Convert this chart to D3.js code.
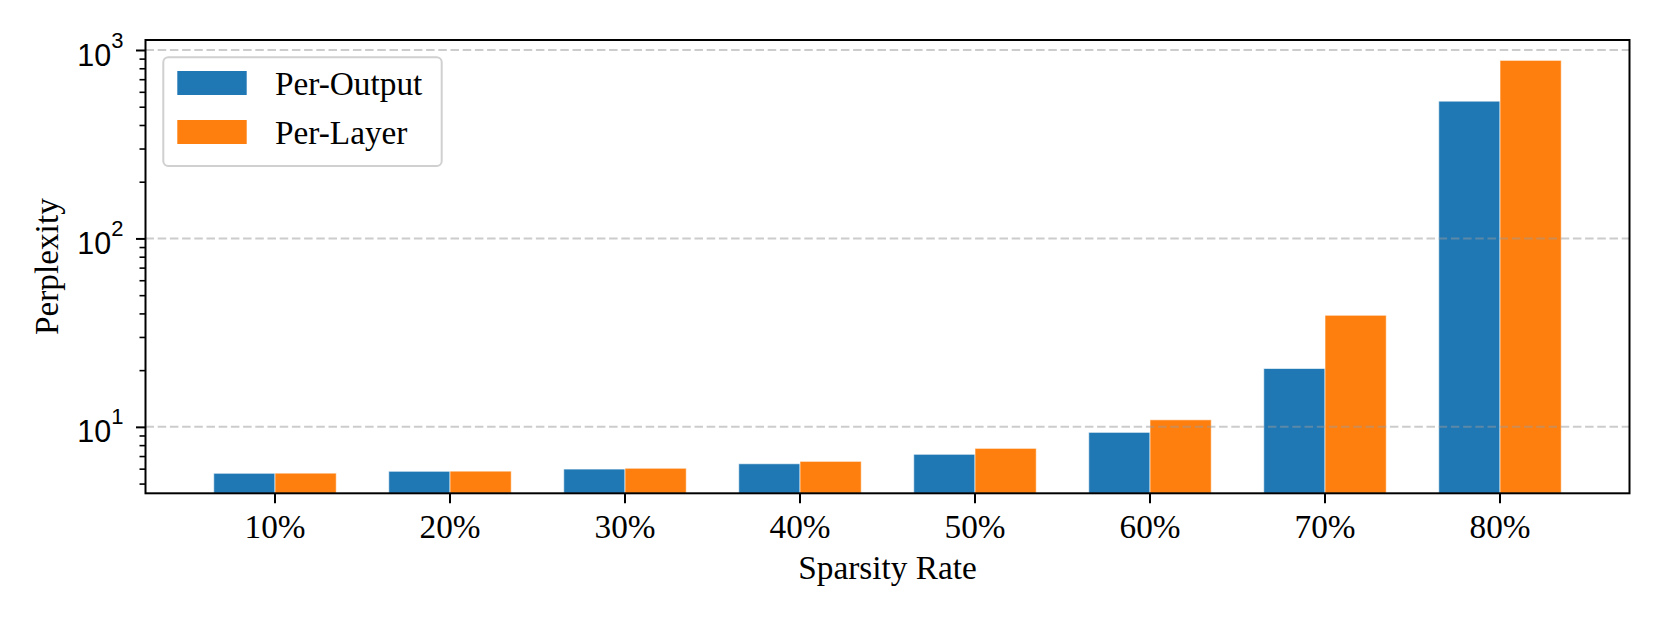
<!DOCTYPE html>
<html>
<head>
<meta charset="utf-8">
<script src="https://cdn.jsdelivr.net/npm/d3@7"></script>
<style>
    body { margin: 0; background: #fff; }
    svg { display: block; font-family: "Liberation Serif", "Times New Roman", serif; }
</style>
</head>
<body>
<svg id="chart" width="1661" height="623"></svg>
<script>
var categories = ["10%", "20%", "30%", "40%", "50%", "60%", "70%", "80%"];
var seriesNames = ["Per-Output", "Per-Layer"];
var perOutput = [5.67, 5.81, 5.97, 6.37, 7.15, 9.35, 20.4, 535];
var perLayer = [5.68, 5.82, 6.03, 6.56, 7.69, 10.9, 39.1, 881];
var majorTicks = [10, 100, 1000];
var majorExp = ["1", "2", "3"];
var minorTicks = [5, 6, 7, 8, 9, 20, 30, 40, 50, 60, 70, 80, 90, 200, 300, 400, 500, 600, 700, 800, 900];

var colors = ["#1f77b4", "#ff7f0e"];

var data = categories.map(function (c, i) {
    return {cat: c, "Per-Output": perOutput[i], "Per-Layer": perLayer[i]};
});

var svg = d3.select("#chart"),
    margin = {top: 40, right: 31.5, bottom: 129.7, left: 145.5},
    width = +svg.attr("width") - margin.left - margin.right,
    height = +svg.attr("height") - margin.top - margin.bottom,
    g = svg.append("g").attr("transform", "translate(" + margin.left + "," + margin.top + ")");

var x0 = d3.scaleBand()
    .domain(categories)
    .range([0, width])
    .paddingInner(0.3)
    .paddingOuter(0.39);

var x1 = d3.scaleBand()
    .domain(seriesNames)
    .range([0, x0.bandwidth()])
    .padding(0);

var y = d3.scaleLog()
    .domain([4.44, 1130])
    .range([height, 0]);

var z = d3.scaleOrdinal().domain(seriesNames).range(colors);

// bars
g.append("g")
    .selectAll("g")
    .data(data)
    .enter().append("g")
    .attr("transform", function (d) {
        return "translate(" + x0(d.cat) + ",0)";
    })
    .selectAll("rect")
    .data(function (d) {
        return seriesNames.map(function (key) {
            return {key: key, value: d[key]};
        });
    })
    .enter().append("rect")
    .attr("x", function (d) { return x1(d.key); })
    .attr("y", function (d) { return y(d.value); })
    .attr("width", x1.bandwidth())
    .attr("height", function (d) { return height - y(d.value); })
    .attr("fill", function (d) { return z(d.key); })
    .attr("stroke", "#fff")
    .attr("stroke-opacity", 0.6)
    .attr("stroke-width", 1);

// dashed grid at major ticks, drawn over the bars
g.append("g")
    .selectAll("line")
    .data(majorTicks)
    .enter().append("line")
    .attr("x1", 0)
    .attr("x2", width)
    .attr("y1", function (d) { return y(d); })
    .attr("y2", function (d) { return y(d); })
    .attr("stroke", "#9a9a9a")
    .attr("stroke-opacity", 0.5)
    .attr("stroke-width", 2)
    .attr("stroke-dasharray", "8.5,3.7");

// x axis
var xAxis = g.append("g")
    .attr("transform", "translate(0," + height + ")")
    .call(d3.axisBottom(x0).tickSizeInner(10).tickSizeOuter(0));
xAxis.select(".domain").remove();
xAxis.selectAll(".tick line").attr("stroke", "#000").attr("stroke-width", 2);
xAxis.selectAll(".tick text")
    .attr("y", 45)
    .attr("dy", null)
    .attr("fill", "#000")
    .attr("font-size", 33.3)
    .attr("font-family", "Liberation Serif, Times New Roman, serif");

// y axis minor ticks
var yMinor = g.append("g")
    .call(d3.axisLeft(y).tickValues(minorTicks).tickSize(6).tickFormat(""));
yMinor.select(".domain").remove();
yMinor.selectAll(".tick line").attr("stroke", "#000").attr("stroke-width", 1.6);

// y axis major ticks
var yMajor = g.append("g")
    .call(d3.axisLeft(y).tickValues(majorTicks).tickSize(9.5).tickFormat(""));
yMajor.select(".domain").remove();
yMajor.selectAll(".tick line").attr("stroke", "#000").attr("stroke-width", 2);
var lbl = yMajor.selectAll(".tick").append("text")
    .attr("x", -22)
    .attr("y", 15)
    .attr("text-anchor", "end")
    .attr("fill", "#000");
lbl.append("tspan")
    .attr("font-size", 30.5)
    .text("10");
lbl.append("tspan")
    .attr("font-size", 22)
    .attr("dy", -18)
    .text(function (d, i) { return majorExp[i]; });

// spines
g.append("rect")
    .attr("width", width)
    .attr("height", height)
    .attr("fill", "none")
    .attr("stroke", "#000")
    .attr("stroke-width", 2);

// axis labels
g.append("text")
    .attr("x", width / 2)
    .attr("y", 579.3 - margin.top)
    .attr("text-anchor", "middle")
    .attr("font-size", 33.3)
    .attr("fill", "#000")
    .text("Sparsity Rate");

g.append("text")
    .attr("transform", "translate(" + (58 - margin.left) + "," + (height / 2) + ") rotate(-90)")
    .attr("text-anchor", "middle")
    .attr("font-size", 33.3)
    .attr("fill", "#000")
    .text("Perplexity");

// legend
var legend = g.append("g")
    .attr("transform", "translate(17.8,17.3)");

legend.append("rect")
    .attr("width", 278.4)
    .attr("height", 108.7)
    .attr("rx", 5)
    .attr("fill", "#fff")
    .attr("fill-opacity", 0.8)
    .attr("stroke", "#d0d0d0")
    .attr("stroke-width", 2);

var item = legend.selectAll(".item")
    .data(seriesNames)
    .enter().append("g")
    .attr("class", "item")
    .attr("transform", function (d, i) {
        return "translate(14," + (13.7 + i * 49) + ")";
    });

item.append("rect")
    .attr("width", 69.4)
    .attr("height", 24)
    .attr("fill", z);

item.append("text")
    .attr("x", 97.7)
    .attr("y", 24)
    .attr("font-size", 33.3)
    .attr("fill", "#000")
    .text(function (d) { return d; });
</script>
</body>
</html>
